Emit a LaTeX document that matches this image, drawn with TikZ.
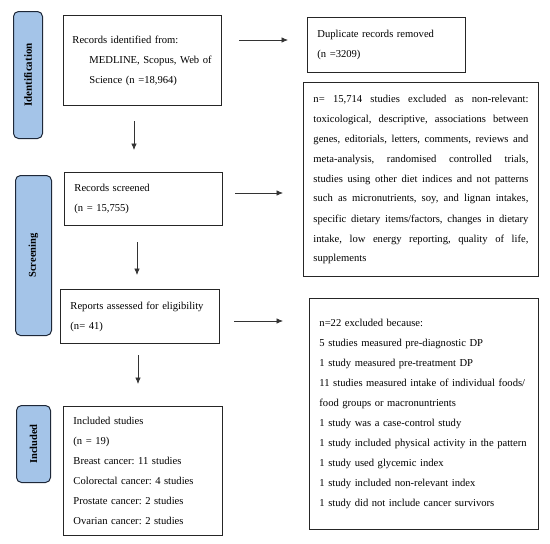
\documentclass[tikz,border=0pt]{standalone}
\usepackage{fontspec}
\setmainfont{Liberation Serif}
\usetikzlibrary{arrows.meta}
\definecolor{barfill}{HTML}{A4C4E8}
\definecolor{bardraw}{HTML}{1E2838}
\frenchspacing
\begin{document}
\begin{tikzpicture}[x=1pt,y=-1pt,
  box/.style={draw=black!85, line width=0.9pt, anchor=north west, inner xsep=10pt, inner ysep=0pt,
    align=left, font=\fontsize{10.6}{20}\selectfont\frenchspacing},
  bar/.style={draw=bardraw, fill=barfill, line width=1pt, rounded corners=5pt, anchor=north west,
    inner sep=0pt},
  barlabel/.style={rotate=90, font=\bfseries\fontsize{10.5}{12}\selectfont},
  arr/.style={draw=black!80, line width=0.7pt, -{Latex[length=6.5pt,width=5.5pt]}}]
\useasboundingbox (0,0) rectangle (550,544);
% side bars
\node[bar, minimum width=29pt, minimum height=127pt] (bid) at (13,11) {};
\node[barlabel, font=\bfseries\fontsize{11}{12}\selectfont] (lid) at (bid.center) {Identification};
\node[bar, minimum width=36pt, minimum height=160pt] (bsc) at (15,175) {};
\node[barlabel] (lsc) at (bsc.center) {Screening};
\node[bar, minimum width=34pt, minimum height=77pt] (bin) at (16,405) {};
\node[barlabel] (lin) at (bin.center) {Included};
% boxes
\node[box, inner xsep=9pt, text width=140pt, minimum width=158pt, minimum height=90pt] (rid) at (63,15)
  {Records identified from:\\\hspace*{17pt}MEDLINE, Scopus, Web of\\\hspace*{17pt}Science (n =18,964)};
\node[box, text width=138pt, minimum width=158pt, minimum height=55pt] (dup) at (307,17)
  {Duplicate records removed\\(n =3209)};
\node[box, text width=215pt, minimum width=235pt, minimum height=194pt, align=justify] (nrel) at (303,82)
  {n= 15,714 studies excluded as non-relevant:\linebreak
   toxicological, descriptive, associations between\linebreak
   genes, editorials, letters, comments, reviews and\linebreak
   meta-analysis, randomised controlled trials,\linebreak
   studies using other diet indices and not patterns\linebreak
   such as micronutrients, soy, and lignan intakes,\linebreak
   specific dietary items/factors, changes in dietary\linebreak
   intake, low energy reporting, quality of life,\linebreak
   supplements};
\node[box, text width=138pt, minimum width=158pt, minimum height=53pt] (scr) at (64,172)
  {Records screened\\(n = 15,755)};
\node[box, text width=139pt, minimum width=159pt, minimum height=54pt] (rep) at (60,289)
  {Reports assessed for eligibility\\(n= 41)};
\node[box, text width=209pt, minimum width=229pt, minimum height=231pt] (exc) at (309,298)
  {n=22 excluded because:\\
   5 studies measured pre-diagnostic DP\\
   1 study measured pre-treatment DP\\
   11 studies measured intake of individual foods/\\
   food groups or macronuntrients\\
   1 study was a case-control study\\
   1 study included physical activity in the pattern\\
   1 study used glycemic index\\
   1 study included non-relevant index\\
   1 study did not include cancer survivors};
\node[box, text width=139pt, minimum width=159pt, minimum height=129pt] (inc) at (63,406)
  {Included studies\\(n = 19)\\Breast cancer: 11 studies\\Colorectal cancer: 4 studies\\
   Prostate cancer: 2 studies\\Ovarian cancer: 2 studies};
% arrow coordinates
\coordinate (a1s) at (239,40);  \coordinate (a1e) at (288,40);
\coordinate (a2s) at (235,193); \coordinate (a2e) at (283,193);
\coordinate (a3s) at (234,321); \coordinate (a3e) at (283,321);
\coordinate (v1s) at (134,121); \coordinate (v1e) at (134,150);
\coordinate (v2s) at (137,242); \coordinate (v2e) at (137,275);
\coordinate (v3s) at (138,355); \coordinate (v3e) at (138,384);
\draw[arr] (a1s) -- (a1e);
\draw[arr] (a2s) -- (a2e);
\draw[arr] (a3s) -- (a3e);
\draw[arr] (v1s) -- (v1e);
\draw[arr] (v2s) -- (v2e);
\draw[arr] (v3s) -- (v3e);
\end{tikzpicture}
\end{document}
